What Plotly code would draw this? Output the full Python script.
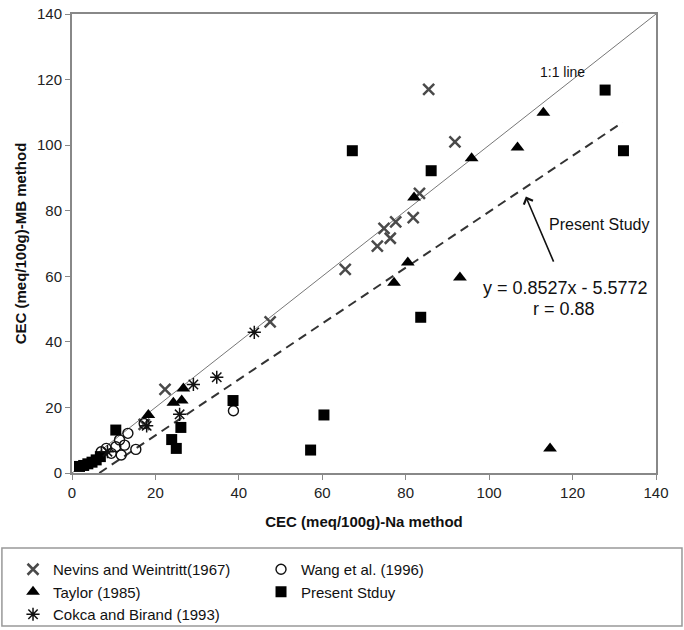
import plotly.graph_objects as go

# ---- data ----
nevins_x = [17.3, 22.3, 47.5, 65.5, 73.2, 74.8, 76.3, 77.6, 81.8, 83.3, 85.5, 91.8]
nevins_y = [14.8, 25.5, 46.1, 62.1, 69.2, 74.6, 71.6, 76.6, 77.9, 85.3, 117.0, 101.0]

wang_x = [7.0, 8.2, 9.4, 10.5, 11.4, 11.8, 12.6, 13.4, 15.3, 17.3, 38.7]
wang_y = [6.5, 7.5, 6.0, 8.0, 10.1, 5.5, 8.5, 12.1, 7.2, 15.1, 19.0]

taylor_x = [18.3, 24.3, 26.3, 26.7, 77.2, 80.5, 82.0, 93.0, 95.8, 106.8, 113.0, 114.6]
taylor_y = [17.7, 21.4, 22.1, 25.8, 58.0, 64.2, 84.0, 59.6, 96.0, 99.3, 109.9, 7.5]

present_x = [1.8, 2.8, 3.8, 4.8, 5.8, 6.8, 10.5, 23.9, 25.0, 26.1, 38.6, 57.2, 60.4, 67.2, 83.6, 86.1, 127.8, 132.2]
present_y = [2.0, 2.3, 2.8, 3.3, 4.0, 5.0, 13.1, 10.2, 7.5, 13.9, 22.1, 7.0, 17.7, 98.3, 47.5, 92.2, 116.8, 98.3]

cokca_x = [8.5, 17.9, 25.8, 29.1, 34.7, 43.7]
cokca_y = [6.5, 14.4, 17.9, 27.0, 29.2, 42.9]

fit_slope = 0.8527
fit_intercept = -5.5772
fit_x = [6.54, 132.0]
one_to_one = [0, 140]

x_ticks = [0, 20, 40, 60, 80, 100, 120, 140]
y_ticks = [0, 20, 40, 60, 80, 100, 120, 140]

FONT = "Liberation Sans, Arial, sans-serif"

fig = go.Figure()

# reference lines
fig.add_trace(go.Scatter(x=one_to_one, y=one_to_one, mode="lines",
                         line=dict(color="#777777", width=1), showlegend=False, hoverinfo="skip"))
fig.add_trace(go.Scatter(x=fit_x, y=[fit_slope * v + fit_intercept for v in fit_x], mode="lines",
                         line=dict(color="#333333", width=2, dash="9px,6px"), showlegend=False, hoverinfo="skip"))

fig.add_trace(go.Scatter(x=nevins_x, y=nevins_y, mode="markers", name="Nevins and Weintritt(1967)",
                         marker=dict(symbol="x-thin-open", size=11, color="#4a4a4a", line=dict(width=2.5))))
fig.add_trace(go.Scatter(x=wang_x, y=wang_y, mode="markers", name="Wang et al. (1996)",
                         marker=dict(symbol="circle-open", size=10, color="#111111", line=dict(width=1.4))))
fig.add_trace(go.Scatter(x=taylor_x, y=taylor_y, mode="markers", name="Taylor (1985)",
                         marker=dict(symbol="triangle-up", size=12, color="#000000")))
fig.add_trace(go.Scatter(x=present_x, y=present_y, mode="markers", name="Present Stduy",
                         marker=dict(symbol="square", size=11, color="#000000")))
fig.add_trace(go.Scatter(x=cokca_x, y=cokca_y, mode="markers", name="Cokca and Birand (1993)",
                         marker=dict(symbol="asterisk-open", size=11, color="#111111", line=dict(width=1.5))))

fig.update_xaxes(range=[0, 140], tickvals=x_ticks, ticks="outside", ticklen=5, tickcolor="#888888",
                 showline=True, linecolor="#888888", linewidth=2, mirror=True, showgrid=False, zeroline=False,
                 automargin=False,
                 tickfont=dict(size=15, color="#222222", family=FONT),
                 title=dict(text="<b>CEC (meq/100g)-Na method</b>", font=dict(size=15, color="#111111", family=FONT),
                            standoff=16))
fig.update_yaxes(range=[0, 140], tickvals=y_ticks, ticks="outside", ticklen=5, tickcolor="#888888",
                 showline=True, linecolor="#888888", linewidth=2, mirror=True, showgrid=False, zeroline=False,
                 automargin=False,
                 tickfont=dict(size=15, color="#222222", family=FONT),
                 title=dict(text="<b>CEC (meq/100g)-MB method</b>", font=dict(size=15, color="#111111", family=FONT),
                            standoff=7))

fig.add_annotation(x=117.5, y=122.3, text="1:1 line", showarrow=False, font=dict(size=14, color="#111111", family=FONT))
fig.add_annotation(x=126.5, y=75.9, text="Present Study", showarrow=False, font=dict(size=16, color="#111111", family=FONT))
fig.add_annotation(x=118.4, y=56.4, text="y = 0.8527x - 5.5772", showarrow=False, font=dict(size=18, color="#111111", family=FONT))
fig.add_annotation(x=118.0, y=50.0, text="r = 0.88", showarrow=False, font=dict(size=18, color="#111111", family=FONT))
fig.add_annotation(x=108.8, y=84.3, ax=115.6, ay=64.0, axref="x", ayref="y", text="", showarrow=True,
                   arrowhead=4, arrowsize=1.2, arrowwidth=1.6, arrowcolor="#111111")

# legend box
fig.add_shape(type="rect", xref="paper", yref="paper", x0=-0.12, x1=1.0445, y0=-0.3333, y1=-0.1634,
              line=dict(color="#999999", width=1.5), fillcolor="rgba(0,0,0,0)")

fig.update_layout(
    width=684, height=650,
    margin=dict(l=72, r=28, t=14, b=177),
    plot_bgcolor="white", paper_bgcolor="white",
    font=dict(family=FONT, color="#111111"),
    legend=dict(orientation="h", x=-0.101, y=-0.1743, xanchor="left", yanchor="top",
                entrywidth=203, entrywidthmode="pixels", font=dict(size=15, family=FONT, color="#111111"),
                bgcolor="rgba(0,0,0,0)", itemwidth=30, tracegroupgap=0),
)

fig.write_html("out.html", config={"displayModeBar": False},
               post_script="document.body.style.margin='0';document.body.style.overflow='hidden';")
